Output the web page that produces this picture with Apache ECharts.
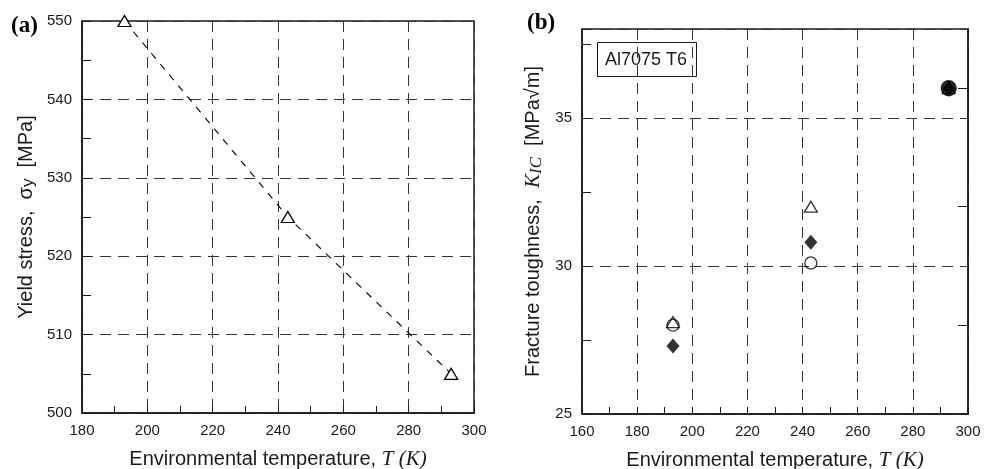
<!DOCTYPE html>
<html>
<head>
<meta charset="utf-8">
<script src="https://cdn.jsdelivr.net/npm/echarts@6/dist/echarts.min.js"></script>
<style>
  html, body { margin: 0; padding: 0; background: #fff; }
  #chart { width: 994px; height: 469px; }
</style>
</head>
<body>
<div id="chart"></div>
<script>
// (a) yield stress vs temperature
var tempA = [193, 243, 293];
var yieldStress = [550, 525, 505];

// (b) fracture toughness vs temperature, three specimen types
var tempB = [193, 243, 293];
var kicTriangle = [28.1, 32.0, 36.0];
var kicCircle = [28.0, 30.1, 36.0];
var kicDiamond = [27.3, 30.8, 36.0];

// axis ticks
var yTicksB = [25, 30, 35];
var yMinorB = [27.5, 32.5, 37.5];
var yRightTicksB = [28, 32, 36];

var sans = 'Liberation Sans';
var serif = 'Liberation Serif';
var ink = '#1a1a1a';

var chart = echarts.init(document.getElementById('chart'));

function pairs(xs, ys) {
  return xs.map(function (x, i) { return [x, ys[i]]; });
}

var gridLine = { show: true, lineStyle: { color: '#333', width: 1, type: [11, 7] } };
var labelStyle = { color: ink, fontSize: 15, fontFamily: sans };
var nameStyle = {
  color: ink, fontSize: 20, fontFamily: sans,
  rich: {
    i: { fontFamily: serif, fontStyle: 'italic', fontSize: 21, color: ink },
    sub: { fontFamily: serif, fontStyle: 'italic', fontSize: 17, color: ink, padding: [6, 0, 0, 0] },
    ys: { fontFamily: sans, fontSize: 17, color: ink, padding: [5, 0, 0, 0] }
  }
};

var option = {
  animation: false,
  grid: [
    { left: 82, top: 21, right: 520, bottom: 56, outerBoundsMode: 'none', show: true, borderColor: ink, borderWidth: 1.5 },
    { left: 582, top: 29, right: 26, bottom: 55, outerBoundsMode: 'none', show: true, borderColor: ink, borderWidth: 1.5 }
  ],
  xAxis: [
    {
      gridIndex: 0, type: 'value', min: 180, max: 300, interval: 20,
      axisLine: { lineStyle: { color: ink, width: 1.5 } },
      axisTick: { inside: true, length: 7, lineStyle: { color: ink } },
      minorTick: { show: true, splitNumber: 2, length: 7, lineStyle: { color: ink } },
      axisLabel: Object.assign({ margin: 10 }, labelStyle),
      splitLine: gridLine,
      name: 'Environmental temperature, {i|T (K)}',
      nameLocation: 'middle', nameGap: 36, nameTextStyle: nameStyle
    },
    {
      gridIndex: 1, type: 'value', min: 160, max: 300, interval: 20,
      axisLine: { lineStyle: { color: ink, width: 1.5 } },
      axisTick: { inside: true, length: 7, lineStyle: { color: ink } },
      minorTick: { show: true, splitNumber: 2, length: 7, lineStyle: { color: ink } },
      axisLabel: Object.assign({ margin: 10 }, labelStyle),
      splitLine: gridLine,
      name: 'Environmental temperature, {i|T (K)}',
      nameLocation: 'middle', nameGap: 36, nameTextStyle: nameStyle
    }
  ],
  yAxis: [
    {
      gridIndex: 0, type: 'value', min: 500, max: 550, interval: 10,
      axisLine: { lineStyle: { color: ink, width: 1.5 } },
      axisTick: { inside: true, length: 9, lineStyle: { color: ink } },
      minorTick: { show: true, splitNumber: 2, length: 9, lineStyle: { color: ink } },
      axisLabel: Object.assign({ margin: 10 }, labelStyle),
      splitLine: gridLine,
      name: 'Yield stress,  σ{ys|y}  [MPa]',
      nameLocation: 'middle', nameRotate: 90, nameGap: 45, nameTextStyle: nameStyle
    },
    {
      gridIndex: 1, type: 'value', min: 25, max: 38, interval: 5,
      axisLine: { lineStyle: { color: ink, width: 1.5 } },
      axisTick: { inside: true, length: 9, lineStyle: { color: ink } },
      axisLabel: Object.assign({ margin: 10, customValues: yTicksB }, labelStyle),
      splitLine: gridLine,
      name: 'Fracture toughness,  {i|K}{sub|IC}  [MPa√m]',
      nameLocation: 'middle', nameRotate: 90, nameGap: 37, nameTextStyle: nameStyle
    },
    {
      // right-hand frame ticks
      gridIndex: 1, type: 'value', position: 'right', min: 25, max: 38,
      axisLine: { show: true, lineStyle: { color: ink, width: 1.5 } },
      axisTick: { show: true, inside: true, length: 10, customValues: yRightTicksB, lineStyle: { color: ink } },
      axisLabel: { show: false },
      splitLine: { show: false }
    },
    {
      // left-hand minor ticks
      gridIndex: 1, type: 'value', position: 'left', min: 25, max: 38,
      axisLine: { show: false },
      axisTick: { show: true, inside: true, length: 9, customValues: yMinorB, lineStyle: { color: ink } },
      axisLabel: { show: false },
      splitLine: { show: false }
    }
  ],
  graphic: [
    { type: 'text', left: 11, top: 15, style: { text: '(a)', font: 'bold 23px "Liberation Serif"', fill: '#000' } },
    { type: 'text', left: 527, top: 12, style: { text: '(b)', font: 'bold 23px "Liberation Serif"', fill: '#000' } },
    {
      type: 'rect', left: 597, top: 42,
      shape: { width: 99, height: 34 },
      style: { fill: '#fff', stroke: ink, lineWidth: 1 }
    },
    { type: 'text', left: 605, top: 51, style: { text: 'Al7075 T6', font: '18px "Liberation Sans"', fill: ink } }
  ],
  series: [
    {
      type: 'line', xAxisIndex: 0, yAxisIndex: 0,
      data: pairs(tempA, yieldStress),
      symbol: 'triangle', symbolSize: [13, 11],
      itemStyle: { color: '#fff', borderColor: '#000', borderWidth: 1.3 },
      lineStyle: { color: '#000', width: 1.1, type: [7, 7] }
    },
    {
      type: 'scatter', xAxisIndex: 1, yAxisIndex: 1,
      data: pairs(tempB, kicTriangle),
      symbol: 'triangle', symbolSize: [13, 11],
      itemStyle: { color: 'rgba(0,0,0,0)', borderColor: '#000', borderWidth: 1.3 }
    },
    {
      type: 'scatter', xAxisIndex: 1, yAxisIndex: 1,
      data: pairs(tempB, kicDiamond),
      symbol: 'diamond', symbolSize: [13, 15],
      itemStyle: { color: '#000' }
    },
    {
      type: 'scatter', xAxisIndex: 1, yAxisIndex: 1,
      data: pairs(tempB, kicCircle).map(function (p, i) {
        // last point drawn solid (all specimens overlap there)
        if (i === 2) return { value: p, symbolSize: 15, itemStyle: { color: '#000' } };
        return p;
      }),
      symbol: 'circle', symbolSize: 12,
      itemStyle: { color: 'rgba(0,0,0,0)', borderColor: '#000', borderWidth: 1.3 }
    }
  ]
};

chart.setOption(option);
</script>
</body>
</html>
